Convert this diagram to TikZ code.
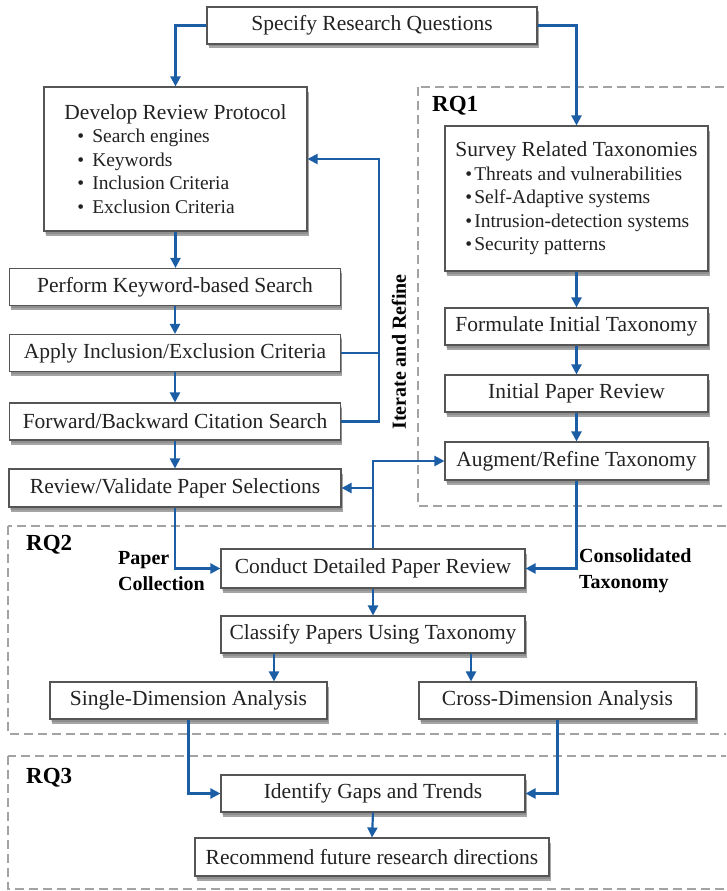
\documentclass[tikz,border=0pt]{standalone}
\usepackage{fontspec}
\setmainfont{Liberation Serif}
\usetikzlibrary{positioning,shadows,arrows.meta,calc}
\definecolor{flowB}{HTML}{1B5EA6}
\definecolor{boxB}{HTML}{555555}
\definecolor{grpB}{HTML}{A3A3A3}
\definecolor{txtB}{HTML}{222222}
\newcommand{\dbul}[1]{{\fontsize{19.5}{23.5}\selectfont\hspace*{13pt}\textbullet\hspace{8pt}#1}}
\newcommand{\sbul}[1]{{\fontsize{19.5}{23.5}\selectfont\hspace*{10pt}\textbullet\hspace{2pt}#1}}
\tikzset{
 box/.style={draw=boxB, fill=white, text=txtB, line width=1.1pt, align=center, inner sep=0pt,
             preaction={fill=black!50, opacity=0.35, transform canvas={xshift=1pt, yshift=-2.5pt}},
             preaction={fill=black!70, opacity=0.5, transform canvas={xshift=1.5pt, yshift=-4.5pt}}},
 arr/.style={-{Triangle[length=10pt,width=10pt]}, line width=2.2pt, draw=flowB},
 lin/.style={line width=2.2pt, draw=flowB},
 grp/.style={draw=grpB, line width=2.4pt, dash pattern=on 9pt off 5pt},
 tag/.style={font=\bfseries\fontsize{20}{26}\selectfont, align=left, inner sep=0pt},
}
\begin{document}
\begin{tikzpicture}[x=1pt, y=-1pt, font=\fontsize{21.5}{23.5}\selectfont]
\useasboundingbox (0,0) rectangle (726,891);
\clip (0,0) rectangle (726,891);
% research-question regions
\draw[grp] (418,87) rectangle (740,506);
\draw[grp] (8,526) rectangle (740,734);
\draw[grp] (8,756) rectangle (740,889);
\node[tag, font=\bfseries\fontsize{23}{25}\selectfont, anchor=west] (rq1) at (432,106) {RQ1};
\node[tag, font=\bfseries\fontsize{23}{25}\selectfont, anchor=west] (rq2) at (26,545) {RQ2};
\node[tag, font=\bfseries\fontsize{23}{25}\selectfont, anchor=west] (rq3) at (26,778) {RQ3};
% start
\node[box, minimum width=330pt, minimum height=37pt] (spec) at (372,25.5) {Specify Research Questions};
% search protocol
\node[box, minimum width=263pt, minimum height=144pt, align=left] (dev) at (175.5,159)
 {Develop Review Protocol\\ \dbul{Search engines}\\ \dbul{Keywords}\\ \dbul{Inclusion Criteria}\\ \dbul{Exclusion Criteria}};
\node[box, minimum width=331pt, minimum height=37pt] (kws) at (175,287) {Perform Keyword-based Search};
\node[box, minimum width=331pt, minimum height=37pt] (apply) at (175,353) {Apply Inclusion/Exclusion Criteria};
\node[box, minimum width=331pt, minimum height=37pt] (fwd) at (175,421.5) {Forward/Backward Citation Search};
\node[box, minimum width=332pt, minimum height=38pt] (rev) at (175,488) {Review/Validate Paper Selections};
% taxonomy (RQ1)
\node[box, minimum width=263pt, minimum height=145pt, align=left] (surv) at (576.5,198.5)
 {Survey Related Taxonomies\\ \sbul{Threats and vulnerabilities}\\ \sbul{Self-Adaptive systems}\\ \sbul{Intrusion-detection systems}\\ \sbul{Security patterns}};
\node[box, minimum width=263pt, minimum height=37pt] (form) at (576.5,326.5) {Formulate Initial Taxonomy};
\node[box, minimum width=263pt, minimum height=37pt] (ipr) at (576.5,393.5) {Initial Paper Review};
\node[box, minimum width=263pt, minimum height=38pt] (aug) at (576.5,461) {Augment/Refine Taxonomy};
% analysis (RQ2)
\node[box, minimum width=304pt, minimum height=39pt] (cond) at (373,568.5) {Conduct Detailed Paper Review};
\node[box, minimum width=304pt, minimum height=37pt] (cls) at (373,634.5) {Classify Papers Using Taxonomy};
\node[box, minimum width=277pt, minimum height=37pt] (sda) at (188.5,700.5) {Single-Dimension Analysis};
\node[box, minimum width=277pt, minimum height=37pt] (cda) at (557.5,700.5) {Cross-Dimension Analysis};
% outcome (RQ3)
\node[box, minimum width=304pt, minimum height=37pt] (gap) at (373,793.5) {Identify Gaps and Trends};
\node[box, minimum width=354pt, minimum height=38pt] (rec) at (372,857) {Recommend future research directions};
% labels
\node[tag, rotate=90] (itr) at (399,352) {Iterate and Refine};
\node[tag, anchor=west] (pcol) at (118,571) {Paper\\Collection};
\node[tag, anchor=west] (ctax) at (579,571) {Consolidated\\Taxonomy};
% arrows
\draw[arr] (spec.west) -| (dev.north);
\draw[arr] (spec.east) -| (surv.north);
\draw[arr] (dev.south) -- (dev.south |- kws.north);
\draw[arr] (kws.south) -- (apply.north);
\draw[arr] (apply.south) -- (fwd.north);
\draw[arr] (fwd.south) -- (rev.north);
\coordinate (loop) at (379,159);
\draw[arr] (fwd.east) -| (loop) -- (dev.east);
\draw[lin] (apply.east) -- (apply.east -| loop);
\draw[arr] (surv.south) -- (form.north);
\draw[arr] (form.south) -- (ipr.north);
\draw[arr] (ipr.south) -- (aug.north);
\draw[arr] (rev.south) |- (cond.west);
\draw[arr] (aug.south) |- (cond.east);
\coordinate (back) at (373,461);
\draw[arr] (cond.north) -- (back) -- (aug.west);
\draw[arr] (cond.north |- rev.east) -- (rev.east);
\draw[arr] (cond.south) -- (cls.north);
\draw[arr] ([xshift=-99pt]cls.south) -- ([xshift=-99pt]cls.south |- sda.north);
\draw[arr] ([xshift=98pt]cls.south) -- ([xshift=98pt]cls.south |- cda.north);
\draw[arr] (sda.south) |- (gap.west);
\draw[arr] (cda.south) |- (gap.east);
\draw[arr] (gap.south) -- (rec.north);
\end{tikzpicture}
\end{document}
